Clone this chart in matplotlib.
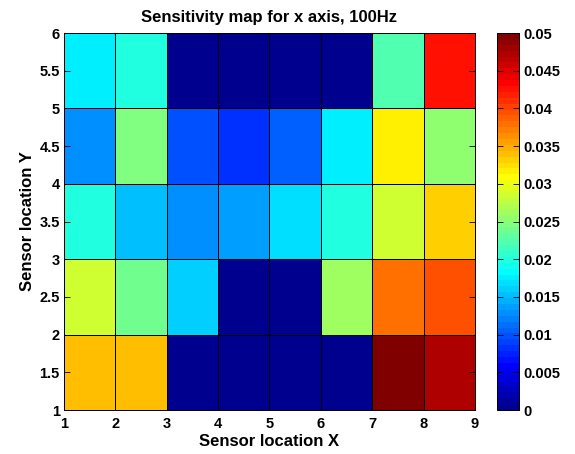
import numpy as np
import matplotlib
matplotlib.use("Agg")
import matplotlib.pyplot as plt
from matplotlib.colors import ListedColormap

x_edges = [1, 2, 3, 4, 5, 6, 7, 8, 9]
y_edges = [1, 2, 3, 4, 5, 6]
# rows bottom (y=1-2) to top (y=5-6)
row_1 = [0.0340, 0.0340, 0.0, 0.0, 0.0, 0.0, 0.0500, 0.0473]
row_2 = [0.0285, 0.0238, 0.0160, 0.0, 0.0, 0.0262, 0.0379, 0.0395]
row_3 = [0.0199, 0.0152, 0.0129, 0.0137, 0.0168, 0.0199, 0.0285, 0.0332]
row_4 = [0.0129, 0.0246, 0.0098, 0.0082, 0.0106, 0.0176, 0.0316, 0.0254]
row_5 = [0.0176, 0.0199, 0.0, 0.0, 0.0, 0.0, 0.0223, 0.0426]
cbar_ticks = [0, 0.005, 0.01, 0.015, 0.02, 0.025, 0.03, 0.035, 0.04, 0.045, 0.05]
x_ticks = [1, 2, 3, 4, 5, 6, 7, 8, 9]
y_ticks = [1, 1.5, 2, 2.5, 3, 3.5, 4, 4.5, 5, 5.5, 6]

plt.rcParams['font.family'] = ['Liberation Sans', 'DejaVu Sans']
plt.rcParams['font.weight'] = 'bold'


def matlab_jet(m=64):
    n = int(np.ceil(m / 4))
    u = np.concatenate([np.arange(1, n + 1) / n, np.ones(n - 1), np.arange(n, 0, -1) / n])
    g = int(np.ceil(n / 2)) - (1 if m % 4 == 1 else 0) + np.arange(1, len(u) + 1)
    r = g + n
    b = g - n
    cm = np.zeros((m, 3))
    for idx, ch in ((r, 0), (g, 1), (b, 2)):
        mask = (idx >= 1) & (idx <= m)
        cm[idx[mask] - 1, ch] = u[mask]
    return ListedColormap(cm)


Z = np.array([row_1, row_2, row_3, row_4, row_5])
cmap = matlab_jet(64)

fig = plt.figure(figsize=(5.75, 4.54), dpi=100)
ax = fig.add_axes([0.1113, 0.0969, 0.7147, 0.8304])
mesh = ax.pcolormesh(x_edges, y_edges, Z, cmap=cmap, vmin=0, vmax=0.05,
                     edgecolors='black', linewidth=0.72)
ax.set_xlim(1, 9)
ax.set_ylim(1, 6)
ax.set_xticks(x_ticks)
ax.set_yticks(y_ticks)
ax.set_yticklabels([f"{v:g}" for v in y_ticks])
ax.tick_params(direction='in', length=4, labelsize=10.5, width=0.6,
               top=True, right=True, pad=3)
ax.tick_params(axis='x', pad=5)
for lab in ax.get_xticklabels() + ax.get_yticklabels():
    lab.set_fontweight('bold')
for s in ax.spines.values():
    s.set_linewidth(0.72)
ax.set_xlabel('Sensor location X', fontsize=12, fontweight='bold', labelpad=2)
ax.set_ylabel('Sensor location Y', fontsize=12, fontweight='bold', labelpad=3)
ax.set_title('Sensitivity map for x axis, 100Hz', fontsize=12, fontweight='bold', pad=8)

cax = fig.add_axes([0.864, 0.0969, 0.0383, 0.8304])
cb = fig.colorbar(mesh, cax=cax, ticks=cbar_ticks)
cb.ax.set_yticklabels([f"{v:g}" for v in cbar_ticks])
cb.ax.tick_params(direction='in', length=4, labelsize=10.5, width=0.6,
                  left=True, right=True, pad=3)
for lab in cb.ax.get_yticklabels():
    lab.set_fontweight('bold')
cb.outline.set_linewidth(0.72)

fig.savefig('out.png', dpi=100)
